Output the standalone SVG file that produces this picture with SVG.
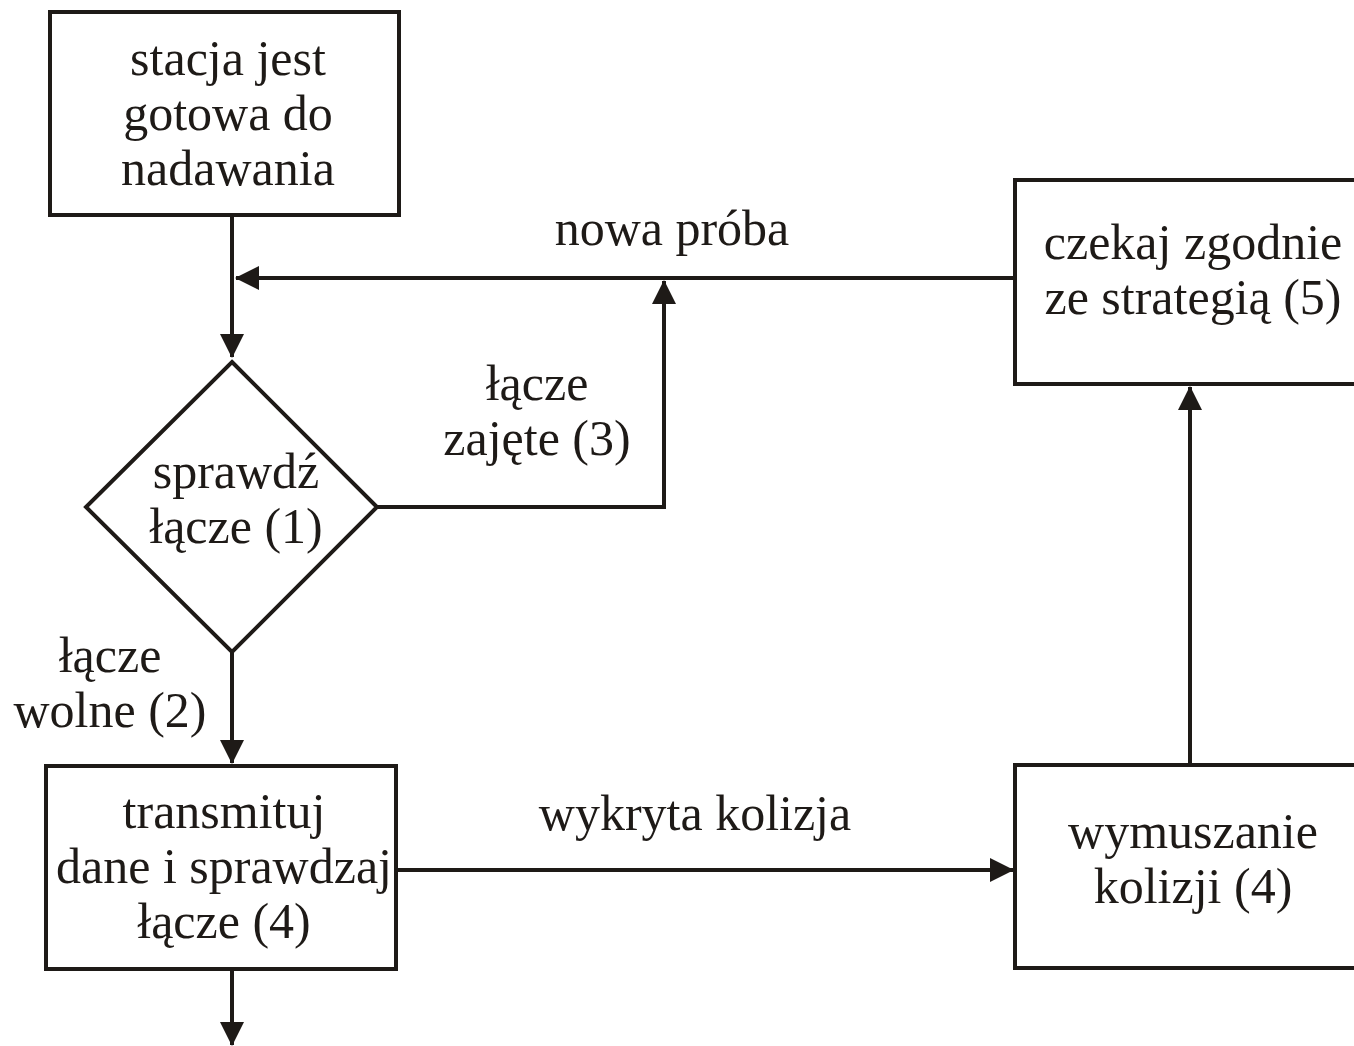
<svg xmlns="http://www.w3.org/2000/svg" width="1354" height="1046" viewBox="0 0 1354 1046">
<style>
.box{fill:#fff;stroke:#1e1a17;stroke-width:4}
.ln{fill:none;stroke:#1e1a17;stroke-width:4}
text{font-family:"Liberation Serif","Times New Roman",serif;font-size:50px;fill:#1e1a17;text-anchor:middle}
</style>
<defs>
<marker id="ah" markerUnits="userSpaceOnUse" markerWidth="26" markerHeight="26" refX="23" refY="12" orient="auto">
<path d="M0,0 L24,12 L0,24 z" fill="#1e1a17"/>
</marker>
</defs>
<rect width="1354" height="1046" fill="#fff"/>
<g id="connectors">
<path class="ln" d="M232,217 L232,357" marker-end="url(#ah)"/>
<path class="ln" d="M1015,278 L236,278" marker-end="url(#ah)"/>
<path class="ln" d="M377,507 L664,507 L664,281" marker-end="url(#ah)"/>
<path class="ln" d="M232,652 L232,763" marker-end="url(#ah)"/>
<path class="ln" d="M396,870 L1013,870" marker-end="url(#ah)"/>
<path class="ln" d="M1190,765 L1190,387" marker-end="url(#ah)"/>
<path class="ln" d="M232,970 L232,1045" marker-end="url(#ah)"/>
</g>
<g id="n-start">
<rect class="box" x="50" y="12" width="349" height="203"/>
<text x="228" y="75">stacja jest</text>
<text x="228" y="130">gotowa do</text>
<text x="228" y="185">nadawania</text>
</g>
<g id="n-check">
<polygon class="box" points="232,362 377,507 232,652 86,507"/>
<text x="236" y="488">sprawdź</text>
<text x="236" y="543">łącze (1)</text>
</g>
<g id="n-wait">
<rect class="box" x="1015" y="180" width="350" height="204"/>
<text x="1193" y="259">czekaj zgodnie</text>
<text x="1193" y="314">ze strategią (5)</text>
</g>
<g id="n-transmit">
<rect class="box" x="46" y="766" width="350" height="203"/>
<text x="224" y="828">transmituj</text>
<text x="224" y="883">dane i sprawdzaj</text>
<text x="224" y="938">łącze (4)</text>
</g>
<g id="n-jam">
<rect class="box" x="1015" y="765" width="350" height="203"/>
<text x="1193" y="848">wymuszanie</text>
<text x="1193" y="903">kolizji (4)</text>
</g>
<g id="labels">
<text x="672" y="245">nowa próba</text>
<text x="537" y="400">łącze</text>
<text x="537" y="455">zajęte (3)</text>
<text x="110" y="672">łącze</text>
<text x="110" y="727">wolne (2)</text>
<text x="695" y="830">wykryta kolizja</text>
</g>
</svg>
